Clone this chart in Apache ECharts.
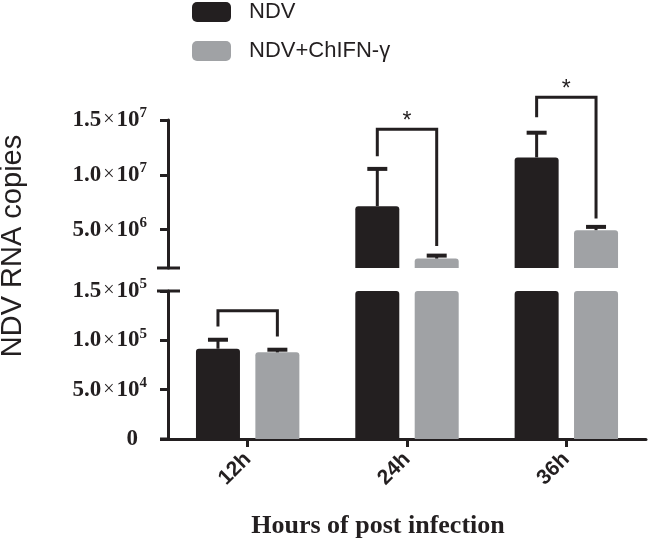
<!DOCTYPE html>
<html>
<head>
<meta charset="utf-8">
<script src="https://cdn.jsdelivr.net/npm/echarts@6/dist/echarts.min.js"></script>
<style>html,body{margin:0;padding:0;background:#fff}#c{width:650px;height:542px}</style>
</head>
<body>
<div id="c"></div>
<script>
// ---- data ----
const categories = ['12h', '24h', '36h'];
const seriesNames = ['NDV', 'NDV+ChIFN-γ'];
const ndvMean = [9.15e4, 7.14e6, 1.159e7];
const ndvErr = [9.1e3, 3.4e6, 2.25e6];
const ifnMean = [8.78e4, 2.36e6, 4.95e6];
const ifnErr = [2.7e3, 2.7e5, 3.0e5];
const bracketLeft = [1.14e5, 1.17e7, 1.525e7];
const bracketTop = [1.30e5, 1.415e7, 1.707e7];
const bracketRight = [1.04e5, 3.5e6, 6.01e6];
const bracketMark = ['', '*', '*'];
const lowerRange = [0, 1.5e5];
const upperRange = [1.5e6, 1.5e7];
const lowerTicks = [0, 5e4, 1e5, 1.5e5];
const upperTicks = [5e6, 1e7, 1.5e7];
const yTitle = 'NDV RNA copies';
const xTitle = 'Hours of post infection';

// ---- style ----
const INK = '#231f20';
const GRAY = '#a0a2a5';
const BAR_W = 44;
const GAP_PCT = 35;
const OFF = (BAR_W + BAR_W * GAP_PCT / 100) / 2;

function sci(v) {
  if (v === 0) return '{a|0}{p|}';
  const e = Math.floor(Math.log10(v) + 1e-9);
  const m = (v / Math.pow(10, e)).toFixed(1);
  return '{a|' + m + '}{x|×}{a|10}{s|' + e + '}';
}
const rich = {
  a: {fontFamily: 'Liberation Serif', fontWeight: 'bold', fontSize: 23, color: INK},
  x: {fontFamily: 'Liberation Serif', fontSize: 20, color: INK, padding: [0, 2, 0, 2]},
  s: {fontFamily: 'Liberation Serif', fontWeight: 'bold', fontSize: 15, color: INK, padding: [0, 0, 13, 0]},
  p: {width: 9}
};

// build custom data
const errData = [[], []]; // per grid: 0 lower, 1 upper
const brData = [[], []];
categories.forEach((c, i) => {
  [[ndvMean, ndvErr, -1], [ifnMean, ifnErr, 1]].forEach(([m, e, side]) => {
    const g = (m[i] + e[i] <= lowerRange[1]) ? 0 : 1;
    errData[g].push([i, m[i], e[i], side]);
  });
  const g = bracketTop[i] <= lowerRange[1] ? 0 : 1;
  brData[g].push([i, bracketLeft[i], bracketTop[i], bracketRight[i], bracketMark[i]]);
});

function renderErr(params, api) {
  const i = api.value(0), m = api.value(1), e = api.value(2), side = api.value(3);
  const b = api.coord([i, m]);
  const t = api.coord([i, m + e]);
  const x = b[0] + side * OFF;
  return {
    type: 'group',
    children: [
      {type: 'line', shape: {x1: x, y1: b[1], x2: x, y2: t[1]}, style: {stroke: INK, lineWidth: 3}},
      {type: 'line', shape: {x1: x - 10, y1: t[1], x2: x + 10, y2: t[1]}, style: {stroke: INK, lineWidth: 4}}
    ]
  };
}
function renderBracket(params, api) {
  const i = api.value(0);
  const L = api.coord([i, api.value(1)]);
  const T = api.coord([i, api.value(2)]);
  const R = api.coord([i, api.value(3)]);
  const xl = L[0] - OFF, xr = L[0] + OFF;
  const mark = brData.flat().find(d => d[0] === i)[4];
  const children = [{
    type: 'polyline',
    shape: {points: [[xl, L[1]], [xl, T[1]], [xr, T[1]], [xr, R[1]]]},
    style: {stroke: INK, lineWidth: 3, fill: null}
  }];
  if (mark) {
    children.push({type: 'text', style: {text: mark, x: (xl + xr) / 2, y: T[1] - 8, align: 'center', verticalAlign: 'middle',
      fontSize: 23, fontFamily: 'Liberation Sans', fill: INK}});
  }
  return {type: 'group', children};
}
function renderCap(params, api) {
  const p = api.coord([0, api.value(1)]);
  const x = params.coordSys.x;
  const children = [{type: 'line', shape: {x1: x - 11, y1: p[1], x2: x + 12, y2: p[1]}, style: {stroke: INK, lineWidth: 3}}];
  if (api.value(2)) {
    const yb = params.coordSys.y + params.coordSys.height;
    children.push({type: 'line', shape: {x1: x - 8, y1: yb, x2: x, y2: yb}, style: {stroke: INK, lineWidth: 3}});
  }
  return {type: 'group', children};
}

const axisLine = {show: true, lineStyle: {color: INK, width: 3}};
const axisTick = {show: true, length: 8, lineStyle: {color: INK, width: 3}};

const chart = echarts.init(document.getElementById('c'), null, {renderer: 'canvas'});
const option = {
  animation: false,
  backgroundColor: '#fff',
  legend: {
    orient: 'vertical', left: 187, top: -4,
    itemWidth: 39, itemHeight: 20, itemGap: 17,
    icon: 'roundRect',
    data: seriesNames,
    textStyle: {fontFamily: 'Liberation Sans', fontSize: 22, color: INK, lineHeight: 20, padding: [0, 0, 0, 13]}
  },
  grid: [
    {left: 168, right: 4, top: 291, height: 148},
    {left: 168, right: 4, top: 120, height: 148}
  ],
  xAxis: [
    {type: 'category', gridIndex: 0, data: categories,
      axisLine: axisLine,
      axisTick: Object.assign({alignWithLabel: true}, axisTick),
      axisLabel: {rotate: 45, margin: 17, fontFamily: 'Liberation Sans', fontWeight: 'bold', fontSize: 21, color: INK}},
    {type: 'category', gridIndex: 1, data: categories, show: false}
  ],
  yAxis: [
    {type: 'value', gridIndex: 0, min: lowerRange[0], max: lowerRange[1], interval: 5e4,
      axisLine: axisLine, axisTick: axisTick, splitLine: {show: false},
      axisLabel: {margin: 21, formatter: sci, rich: rich, customValues: lowerTicks}},
    {type: 'value', gridIndex: 1, min: upperRange[0], max: upperRange[1],
      axisLine: axisLine,
      axisTick: Object.assign({customValues: upperTicks}, axisTick),
      splitLine: {show: false},
      axisLabel: {margin: 21, formatter: sci, rich: rich, customValues: upperTicks}}
  ],
  graphic: [
    {type: 'text', x: 13, y: 246, rotation: Math.PI / 2,
      style: {text: yTitle, align: 'center', verticalAlign: 'middle', fontFamily: 'Liberation Sans', fontSize: 29, fill: INK}},
    {type: 'text', x: 378, y: 526,
      style: {text: xTitle, align: 'center', verticalAlign: 'middle', fontFamily: 'Liberation Serif', fontWeight: 'bold', fontSize: 26, fill: INK}}
  ],
  series: [
    {name: seriesNames[0], type: 'bar', xAxisIndex: 0, yAxisIndex: 0, data: ndvMean, barWidth: BAR_W, barGap: GAP_PCT + '%',
      itemStyle: {color: INK, borderRadius: [3, 3, 0, 0]}},
    {name: seriesNames[1], type: 'bar', xAxisIndex: 0, yAxisIndex: 0, data: ifnMean, barWidth: BAR_W, barGap: GAP_PCT + '%',
      itemStyle: {color: GRAY, borderRadius: [3, 3, 0, 0]}},
    {name: seriesNames[0], type: 'bar', xAxisIndex: 1, yAxisIndex: 1, data: ndvMean, barWidth: BAR_W, barGap: GAP_PCT + '%',
      itemStyle: {color: INK, borderRadius: [3, 3, 0, 0]}},
    {name: seriesNames[1], type: 'bar', xAxisIndex: 1, yAxisIndex: 1, data: ifnMean, barWidth: BAR_W, barGap: GAP_PCT + '%',
      itemStyle: {color: GRAY, borderRadius: [3, 3, 0, 0]}},
    {name: 'err0', type: 'custom', xAxisIndex: 0, yAxisIndex: 0, clip: true, data: errData[0], renderItem: renderErr, z: 5},
    {name: 'err1', type: 'custom', xAxisIndex: 1, yAxisIndex: 1, clip: true, data: errData[1], renderItem: renderErr, z: 5},
    {name: 'br0', type: 'custom', xAxisIndex: 0, yAxisIndex: 0, clip: false, data: brData[0], renderItem: renderBracket, z: 5},
    {name: 'br1', type: 'custom', xAxisIndex: 1, yAxisIndex: 1, clip: false, data: brData[1], renderItem: renderBracket, z: 5},
    {name: 'cap0', type: 'custom', xAxisIndex: 0, yAxisIndex: 0, clip: false, data: [[0, lowerRange[1], 1]], renderItem: renderCap, z: 6},
    {name: 'cap1', type: 'custom', xAxisIndex: 1, yAxisIndex: 1, clip: false, data: [[0, upperRange[0], 0]], renderItem: renderCap, z: 6}
  ]
};
chart.setOption(option);
</script>
</body>
</html>
